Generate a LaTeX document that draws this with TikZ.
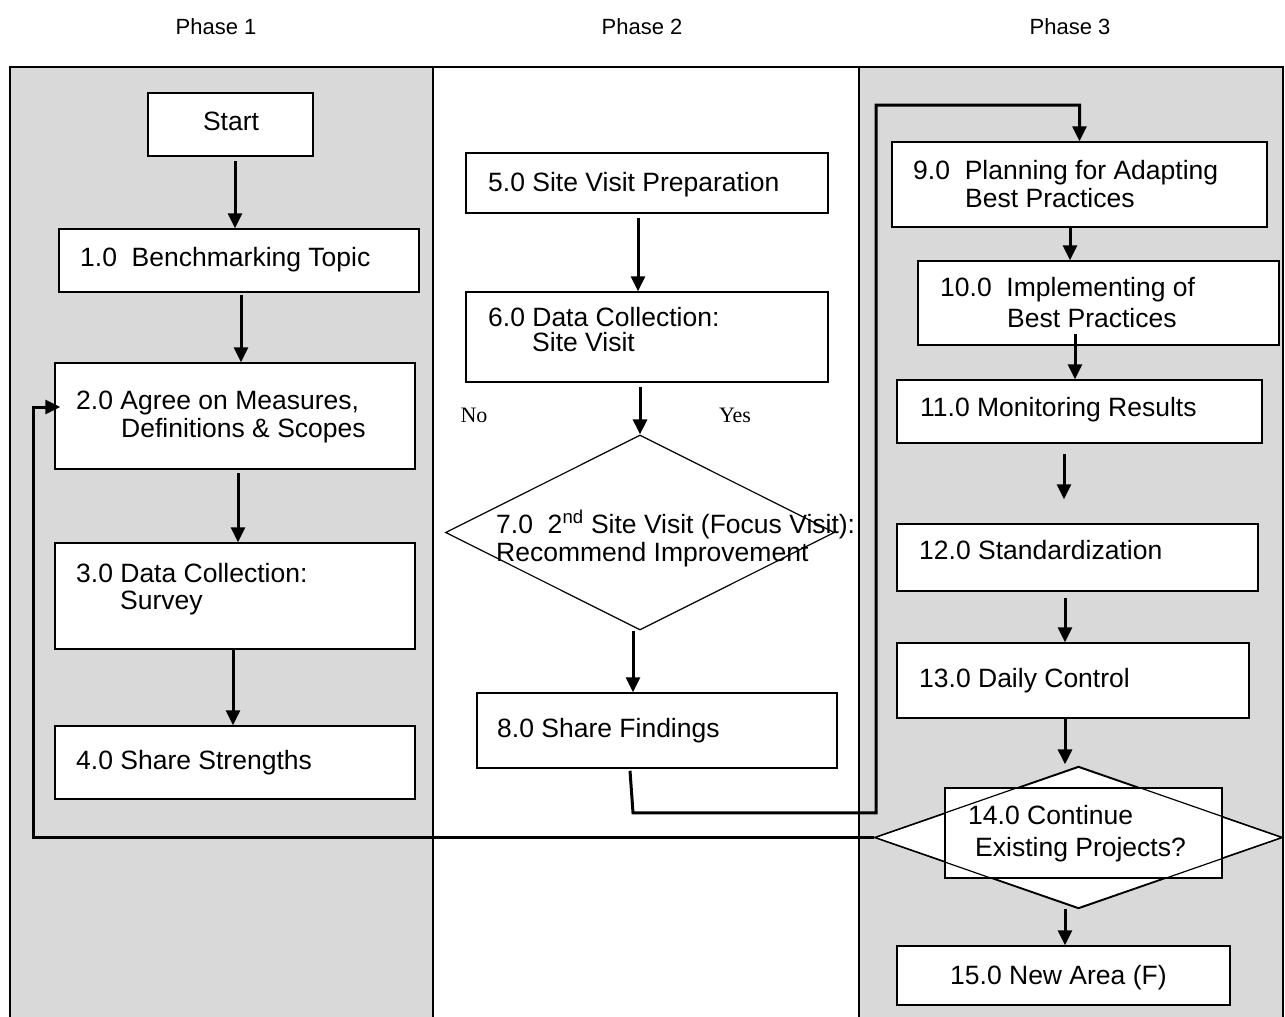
\documentclass[tikz,border=0pt]{standalone}
\usepackage{fontspec}
\newfontfamily\arialfont{Liberation Sans}
\newfontfamily\timesfont{Liberation Serif}
\usetikzlibrary{arrows.meta, shapes.geometric}
\definecolor{lanegray}{RGB}{217,217,217}
\tikzset{
  stepbox/.style={draw, line width=1.5pt, fill=white, inner sep=0pt},
  decision/.style={diamond, draw, line width=1.2pt, fill=white, inner sep=0pt},
  boxtext/.style={anchor=base west, inner sep=0pt, align=left,
    font=\arialfont\fontsize{26.5}{28.5}\selectfont},
  phase/.style={inner sep=0pt, font=\arialfont\fontsize{22}{24}\selectfont},
  answer/.style={inner sep=0pt, font=\timesfont\fontsize{22}{24}\selectfont},
  frame/.style={line width=2pt},
  flow/.style={line width=3pt, -{Triangle[length=15pt,width=14pt]}},
}

\begin{document}
\begin{tikzpicture}
[x=1pt, y=-1pt]
\useasboundingbox (0,0) rectangle (1285,1017);
% swim lanes
\fill [lanegray] (10,67) rectangle (433,1017);
\fill [lanegray] (859,67) rectangle (1283,1017);
\draw [frame] (10,1017) -- (10,67) -- (1283,67) -- (1283,1017);
\foreach \x in {433,859}{
	\draw [frame] (\x,67) -- (\x,1017);
}
\foreach \i/\x in {1/216,2/642,3/1070}{
	\node [phase] (phase \i) at (\x,27) {Phase \i};
}
% phase 1
\node [stepbox, minimum width=165pt, minimum height=63pt] (start) at (230.5,124.5) {};
\node [stepbox, minimum width=360pt, minimum height=63pt] (topic) at (239,260.5) {};
\node [stepbox, minimum width=360pt, minimum height=106pt] (measures) at (235,416) {};
\node [stepbox, minimum width=360pt, minimum height=106pt] (survey) at (235,596) {};
\node [stepbox, minimum width=360pt, minimum height=73pt] (strengths) at (235,762.5) {};
% phase 2
\node [stepbox, minimum width=362pt, minimum height=60pt] (prep) at (647,183) {};
\node [stepbox, minimum width=362pt, minimum height=90pt] (visit) at (647,337) {};
\node [decision, minimum width=389pt, minimum height=195pt] (focus) at (640,532.5) {};
\node [stepbox, minimum width=360pt, minimum height=75pt] (findings) at (657,730.5) {};
% phase 3
\node [stepbox, minimum width=375pt, minimum height=85pt] (planning) at (1079.5,184.5) {};
\node [stepbox, minimum width=361pt, minimum height=84pt] (implement) at (1098.5,303) {};
\node [stepbox, minimum width=365pt, minimum height=63pt] (monitor) at (1079.5,411.5) {};
\node [stepbox, minimum width=361pt, minimum height=67pt] (standard) at (1077.5,557.5) {};
\node [stepbox, minimum width=352pt, minimum height=75pt] (control) at (1073,680.5) {};
\node [decision, minimum width=407pt, minimum height=141pt] (continue) at (1078.5,837.5) {};
\node [stepbox, minimum width=277pt, minimum height=90pt] (continue box) at (1083.5,833) {};
\draw [line width=1.2pt] (continue.north) -- (continue.east) -- (continue.south) -- (continue.west) -- cycle;
\node [stepbox, minimum width=333pt, minimum height=59pt] (new area) at (1063.5,975.5) {};
% texts
\node [boxtext, anchor=base] (start text) at (231,130.5) {Start};
\node [boxtext] (topic text) at (80,266.5) {1.0\ \ Benchmarking Topic};
\node [boxtext] (measures text) at (76,437.5) {2.0 Agree on Measures,\\\hspace*{45pt}Definitions \& Scopes};
\node [boxtext] (survey text) at (76,609.5) {3.0 Data Collection:\\[-1.5pt]\hspace*{44pt}Survey};
\node [boxtext] (strengths text) at (76,769.5) {4.0 Share Strengths};
\node [boxtext] (prep text) at (488,191.5) {5.0 Site Visit Preparation};
\node [boxtext] (visit text) at (488,351.5) {6.0 Data Collection:\\[-3.5pt]\hspace*{44pt}Site Visit};
\node [boxtext] (focus text) at (496,561.5) {7.0\ \ 2\textsuperscript{nd} Site Visit (Focus Visit):\\Recommend Improvement};
\node [boxtext] (findings text) at (497,737.5) {8.0 Share Findings};
\node [boxtext] (planning text) at (913,207.5) {9.0\ \ Planning for Adapting\\\hspace*{52pt}Best Practices};
\node [boxtext] (implement text) at (940,327.5) {10.0\ \ Implementing of\\[2.5pt]\hspace*{67pt}Best Practices};
\node [boxtext] (monitor text) at (920,416.5) {11.0 Monitoring Results};
\node [boxtext] (standard text) at (919,559.5) {12.0 Standardization};
\node [boxtext] (control text) at (919,687.5) {13.0 Daily Control};
\node [boxtext] (continue text) at (968,856.5) {14.0 Continue\\[3.5pt]\hspace*{7pt}Existing Projects?};
\node [boxtext] (new area text) at (950,984.5) {15.0 New Area (F)};
\node [answer] (no) at (474,415) {No};
\node [answer] (yes) at (735,415) {Yes};
% connectors
\draw [flow] ([xshift=4.5pt,yshift=-4pt]start.south) -- ([xshift=4.5pt]start.south |- topic.north);
\draw [flow] ([xshift=2pt,yshift=-2pt]topic.south) -- ([xshift=2pt]topic.south |- measures.north);
\draw [flow] ([xshift=3pt,yshift=-3pt]measures.south) -- ([xshift=3pt]measures.south |- survey.north);
\draw [flow] ([xshift=-2pt]survey.south) -- ([xshift=-2pt]survey.south |- strengths.north);
\draw [flow] ([xshift=-9pt,yshift=-4pt]prep.south) -- ([xshift=-9pt]prep.south |- visit.north);
\draw [flow] ([yshift=-4pt]visit.south -| focus.north) -- (focus.north);
\draw [flow] ([xshift=-7pt]focus.south) -- ([xshift=-7pt]focus.south |- findings.north);
\draw [flow] ([xshift=-27pt,yshift=-2pt]findings.south) -- ++(3,42) -| (876,105) -| (planning.north);
\draw [flow] ([xshift=-9.5pt]planning.south) -- ([xshift=-9.5pt]planning.south |- implement.north);
\draw [flow] ([xshift=-23.5pt,yshift=12pt]implement.south) -- ([xshift=-23.5pt]implement.south |- monitor.north);
\draw [flow] ([xshift=-15.5pt,yshift=-10pt]monitor.south) -- ([xshift=-15.5pt,yshift=24pt]monitor.south |- standard.north);
\draw [flow] ([xshift=-12.5pt,yshift=-6pt]standard.south) -- ([xshift=-12.5pt]standard.south |- control.north);
\draw [flow] ([xshift=-8pt]control.south) -- ([xshift=-8pt,yshift=2pt]control.south |- continue.north);
\draw [flow] ([xshift=-13.5pt]continue.south) -- ([xshift=-13.5pt]continue.south |- new area.north);
\coordinate (back in) at ([xshift=6pt,yshift=9pt]measures.west);
\draw [flow] (continue.west) -| (33,407) -- (back in);
\end{tikzpicture}
\end{document}
